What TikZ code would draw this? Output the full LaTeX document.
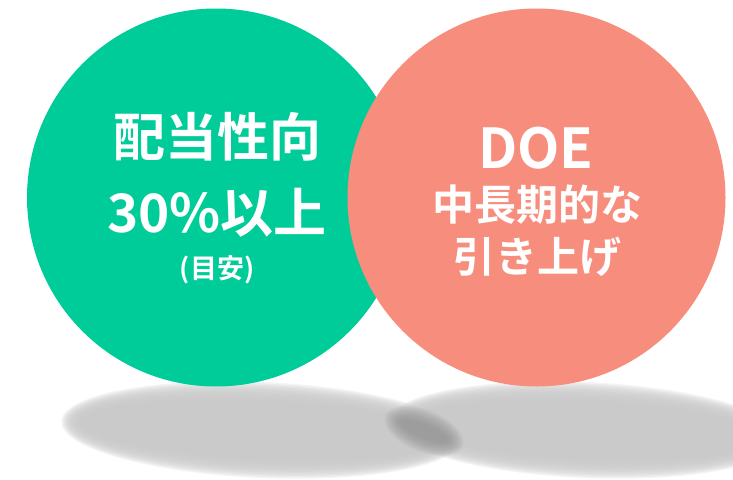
\documentclass[tikz,border=0pt]{standalone}
\usepackage{fontspec}
\newfontfamily\jpfont{Noto Sans CJK JP}[BoldFont={Noto Sans CJK JP Bold}]
\definecolor{greenc}{HTML}{00CC99}
\definecolor{pinkc}{HTML}{F78E7D}
\definecolor{shadowc}{HTML}{C8C8C8}
\definecolor{blobc}{HTML}{8A8A8A}
\tikzset{
  ball/.style={circle, minimum size=378pt, inner sep=0pt, draw=none},
  label/.style={text=white, inner sep=0pt, font=\jpfont\bfseries},
}
\begin{document}
\begin{tikzpicture}[x=1pt,y=-1pt]
\useasboundingbox (0,0) rectangle (733,479);
\clip (0,0) rectangle (733,479);
% shadows (soft edges by stacked translucent ellipses)
\foreach \i in {0,...,13} {
  \fill[shadowc, fill opacity=0.2, rotate around={-2.5:(262,430)}] (262,430) ellipse [x radius={201-1.4*\i}, y radius={48-1.4*\i}];
}
\foreach \i in {0,...,13} {
  \fill[shadowc, fill opacity=0.2, rotate around={-2.5:(585,430)}] (585,430) ellipse [x radius={197-1.4*\i}, y radius={48-1.4*\i}];
}
\foreach \i in {0,...,13} {
  \fill[blobc, fill opacity=0.07, rotate around={-22:(424,431)}] (424,431) ellipse [x radius={42-1.3*\i}, y radius={21-1.1*\i}];
}
% circles
\node[ball, fill=greenc] (left) at (216,197.5) {};
\node[ball, fill=pinkc] (right) at (536.5,197.5) {};
% texts
\node[label, font=\jpfont\bfseries\fontsize{52}{52}\selectfont] (l1) at (217,137) {配当性向};
\node[label, font=\jpfont\bfseries\fontsize{53}{53}\selectfont] (l2) at (217,213) {30\%以上};
\node[label, font=\jpfont\bfseries\fontsize{27}{27}\selectfont] (l3) at (217,270) {(目安)};
\node[label, font=\jpfont\bfseries\fontsize{55}{55}\selectfont] (r1) at (536,148) {DOE};
\node[label, font=\jpfont\bfseries\fontsize{42}{42}\selectfont] (r2) at (537,205) {中長期的な};
\node[label, font=\jpfont\bfseries\fontsize{42}{42}\selectfont] (r3) at (537,257) {引き上げ};
\end{tikzpicture}
\end{document}
